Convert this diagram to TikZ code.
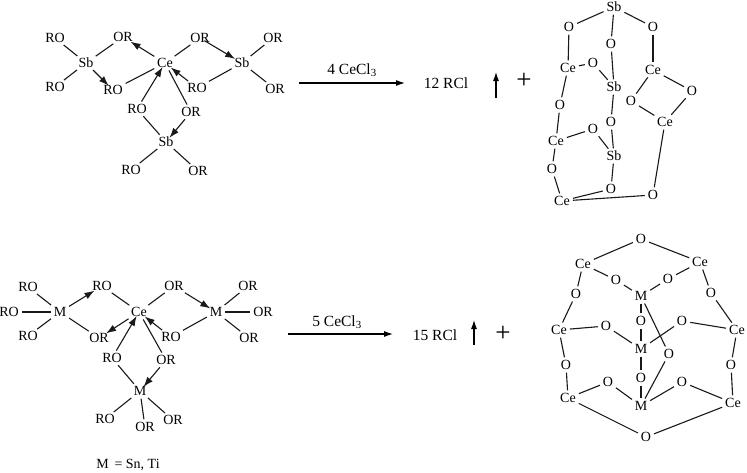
\documentclass[tikz,border=0pt]{standalone}
\usepackage{fontspec}
\setmainfont{Liberation Serif}
\usetikzlibrary{arrows.meta}
\tikzset{
 lbl/.style={inner sep=1pt,font=\fontsize{14}{16}\selectfont,text height=9pt,text depth=0pt},
 big/.style={lbl,font=\fontsize{15.5}{17}\selectfont},
 plus/.style={lbl,font=\fontsize{27}{28}\selectfont,text height=13pt},
 bond/.style={line width=1.1pt,black!90,shorten >=2pt,shorten <=2pt},
 dative/.style={bond,-{Latex[length=10pt,width=7pt]},shorten >=-2pt},
 rxn/.style={line width=1.1pt,-{Latex[length=9pt,width=6pt]}}
}
\newcommand{\nn}[3]{\node[lbl] (#1) at (#2) {#3};}
\begin{document}
\begin{tikzpicture}[x=1pt,y=-1pt]
\useasboundingbox (0,0) rectangle (747,472);
% top left
\nn{a1}{55,38}{RO}\nn{a2}{55,87}{RO}\nn{a3}{86,63}{Sb}\nn{a4}{123,37}{OR}\nn{a5}{113,90}{RO}
\nn{a6}{165,63}{Ce}\nn{a7}{200,38}{OR}\nn{a8}{197,88}{RO}\nn{a9}{242,63}{Sb}\nn{a10}{273,38}{OR}\nn{a11}{275,89}{OR}
\nn{a12}{137,109}{RO}\nn{a13}{191,112}{OR}\nn{a14}{166,142}{Sb}\nn{a15}{131,170}{RO}\nn{a16}{198,171}{OR}
\draw[bond] (a1)--(a3); \draw[bond] (a2)--(a3); \draw[bond] (a3)--(a4);
\draw[dative] (a3)--(a5); \draw[dative] (a6)--(a4); \draw[bond] (a5)--(a6);
\draw[bond] (a6)--(a7); \draw[dative,shorten <=-6pt] (a7)--(a9); \draw[dative] (a8)--(a6); \draw[bond] (a8)--(a9);
\draw[bond] (a9)--(a10); \draw[bond] (a9)--(a11); \draw[dative] (a12)--(a6); \draw[bond] (a6)--(a13);
\draw[bond] (a12)--(a14); \draw[dative] (a13)--(a14); \draw[bond] (a14)--(a15); \draw[bond] (a14)--(a16);
% top reaction
\coordinate (r1s) at (299,83); \coordinate (r1e) at (405,83);
\draw[rxn] (r1s)--(r1e);
\node[big] (r1l) at (352,70) {4 CeCl\textsubscript{3}};
\node[big] (r1p) at (446,84) {12 RCl};
\coordinate (u1s) at (496,98); \coordinate (u1e) at (496,72);
\draw[rxn] (u1s)--(u1e);
\node[plus] (r1m) at (524,82) {+};
% top right cage
\nn{b1}{614,7}{Sb}\nn{b2}{569,27}{O}\nn{b3}{653,27}{O}\nn{b4}{611,44}{O}\nn{b5}{568,68}{Ce}\nn{b6}{593,63}{O}
\nn{b7}{614,87}{Sb}\nn{b8}{653,70}{Ce}\nn{b9}{692,91}{O}\nn{b10}{631,101}{O}\nn{b11}{665,122}{Ce}\nn{b12}{560,105}{O}
\nn{b13}{611,122}{O}\nn{b14}{593,129}{O}\nn{b15}{556,141}{Ce}\nn{b16}{614,156}{Sb}\nn{b17}{552,169}{O}
\nn{b18}{611,189}{O}\nn{b19}{653,195}{O}\nn{b20}{562,201}{Ce}
\foreach \p/\q in {b1/b2,b1/b3,b1/b4,b2/b5,b4/b7,b5/b6,b6/b7,b5/b12,b12/b15,b15/b14,b14/b16,b7/b13,b13/b16,b16/b18,b18/b20,b15/b17,b17/b20,b20/b19,b19/b11,b11/b9,b9/b8,b8/b10,b10/b11,b3/b8}
 \draw[bond] (\p)--(\q);
% bottom left
\nn{c1}{28,287}{RO}\nn{c2}{9,312}{RO}\nn{c3}{28,336}{RO}\nn{c4}{60,312}{M}\nn{c5}{102,286}{RO}\nn{c6}{99,338}{OR}
\nn{c7}{139,312}{Ce}\nn{c8}{174,286}{OR}\nn{c9}{171,337}{RO}\nn{c10}{216,312}{M}\nn{c11}{248,286}{OR}\nn{c12}{263,312}{OR}\nn{c13}{249,338}{OR}
\nn{c14}{112,358}{RO}\nn{c15}{166,360}{OR}\nn{c16}{140,391}{M}\nn{c17}{105,419}{RO}\nn{c18}{145,427}{OR}\nn{c19}{173,420}{OR}
\node[lbl] (c20) at (128,464) {M\,\ = Sn, Ti};
\foreach \p/\q in {c1/c4,c2/c4,c3/c4,c4/c6,c5/c7,c7/c8,c10/c9,c10/c11,c10/c12,c10/c13,c7/c15,c14/c16,c16/c17,c16/c18,c16/c19}
 \draw[bond] (\p)--(\q);
\foreach \p/\q in {c4/c5,c7/c6,c8/c10,c9/c7,c14/c7,c15/c16}
 \draw[dative] (\p)--(\q);
% bottom reaction
\coordinate (r2s) at (288,334); \coordinate (r2e) at (393,334);
\draw[rxn] (r2s)--(r2e);
\node[big] (r2l) at (337,322) {5 CeCl\textsubscript{3}};
\node[big] (r2p) at (435,336) {15 RCl};
\coordinate (u2s) at (474,345); \coordinate (u2e) at (474,320);
\draw[rxn] (u2s)--(u2e);
\node[plus] (r2m) at (503,335) {+};
% bottom right cage
\nn{d1}{641,239}{O}\nn{d2}{583,264}{Ce}\nn{d3}{700,262}{Ce}\nn{d4}{616,280}{O}\nn{d5}{668,279}{O}\nn{d6}{576,294}{O}\nn{d7}{711,293}{O}
\nn{d8}{641,296}{M}\nn{d9}{641,321}{O}\nn{d10}{559,330}{Ce}\nn{d11}{606,326}{O}\nn{d12}{682,321}{O}\nn{d13}{737,330}{Ce}
\nn{d14}{641,349}{M}\nn{d15}{669,354}{O}\nn{d16}{566,365}{O}\nn{d17}{731,365}{O}\nn{d18}{641,378}{O}\nn{d19}{608,382}{O}\nn{d20}{682,382}{O}
\nn{d21}{568,398}{Ce}\nn{d22}{733,403}{Ce}\nn{d23}{641,406}{M}\nn{d24}{646,437}{O}
\foreach \p/\q in {d1/d2,d1/d3,d2/d4,d4/d8,d3/d5,d5/d8,d2/d6,d6/d10,d3/d7,d7/d13,d8/d9,d9/d14,d10/d11,d11/d14,d14/d12,d12/d13,d8/d15,d15/d23,d10/d16,d16/d21,d13/d17,d17/d22,d14/d18,d18/d23,d21/d19,d19/d23,d23/d20,d20/d22,d21/d24,d22/d24}
 \draw[bond] (\p)--(\q);
\end{tikzpicture}
\end{document}
